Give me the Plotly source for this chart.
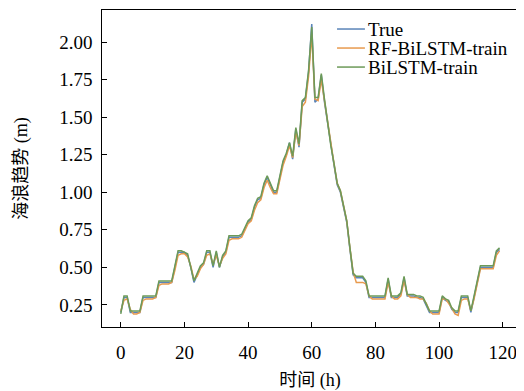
import plotly.graph_objects as go

hours = list(range(120))

true_vals = [0.20,0.30,0.30,0.20,0.20,0.20,0.20,0.30,0.30,0.30,
 0.30,0.30,0.40,0.40,0.40,0.40,0.40,0.50,0.60,0.60,
 0.60,0.58,0.50,0.40,0.45,0.50,0.52,0.60,0.60,0.50,
 0.60,0.50,0.57,0.60,0.70,0.70,0.70,0.70,0.71,0.75,
 0.80,0.82,0.90,0.95,0.96,1.05,1.10,1.05,1.00,1.00,
 1.10,1.20,1.25,1.33,1.22,1.42,1.30,1.60,1.62,1.80,
 2.12,1.60,1.62,1.78,1.60,1.45,1.30,1.18,1.05,1.00,
 0.90,0.80,0.62,0.45,0.43,0.43,0.43,0.40,0.30,0.30,
 0.30,0.30,0.30,0.30,0.42,0.30,0.30,0.30,0.32,0.43,
 0.31,0.31,0.31,0.30,0.30,0.29,0.25,0.20,0.20,0.20,
 0.20,0.30,0.28,0.27,0.22,0.20,0.20,0.30,0.30,0.30,
 0.20,0.30,0.40,0.50,0.50,0.50,0.50,0.50,0.60,0.62]

rf_bilstm = [0.21,0.28,0.29,0.22,0.19,0.19,0.20,0.28,0.29,0.29,
 0.29,0.30,0.38,0.39,0.39,0.39,0.40,0.48,0.58,0.59,
 0.59,0.57,0.51,0.42,0.44,0.49,0.52,0.58,0.59,0.52,
 0.58,0.51,0.56,0.59,0.68,0.69,0.69,0.69,0.70,0.74,
 0.79,0.81,0.88,0.93,0.95,1.03,1.08,1.03,0.99,0.99,
 1.08,1.18,1.24,1.31,1.23,1.40,1.31,1.57,1.60,1.77,
 2.05,1.62,1.61,1.75,1.61,1.46,1.31,1.19,1.06,1.01,
 0.91,0.81,0.63,0.47,0.40,0.40,0.40,0.39,0.31,0.29,
 0.29,0.29,0.29,0.29,0.40,0.31,0.29,0.29,0.31,0.41,
 0.32,0.30,0.30,0.30,0.29,0.29,0.26,0.21,0.19,0.19,
 0.19,0.29,0.29,0.26,0.23,0.19,0.18,0.28,0.29,0.29,
 0.21,0.29,0.39,0.49,0.49,0.49,0.49,0.49,0.58,0.61]

bilstm = [0.19,0.31,0.31,0.21,0.21,0.21,0.21,0.31,0.31,0.31,
 0.31,0.31,0.41,0.41,0.41,0.41,0.41,0.51,0.61,0.61,
 0.60,0.59,0.50,0.41,0.46,0.51,0.53,0.61,0.61,0.51,
 0.61,0.50,0.58,0.61,0.71,0.71,0.71,0.71,0.72,0.76,
 0.81,0.83,0.91,0.96,0.97,1.06,1.11,1.06,1.01,1.01,
 1.11,1.21,1.26,1.33,1.24,1.43,1.32,1.61,1.63,1.81,
 2.10,1.63,1.63,1.79,1.62,1.46,1.31,1.19,1.06,1.01,
 0.91,0.81,0.63,0.46,0.44,0.44,0.44,0.41,0.31,0.31,
 0.31,0.31,0.31,0.31,0.43,0.31,0.31,0.31,0.33,0.44,
 0.32,0.32,0.32,0.31,0.31,0.30,0.26,0.21,0.21,0.21,
 0.21,0.31,0.29,0.28,0.23,0.21,0.21,0.31,0.31,0.31,
 0.21,0.31,0.41,0.51,0.51,0.51,0.51,0.51,0.61,0.63]

series_names = ["True", "RF-BiLSTM-train", "BiLSTM-train"]
series_colors = ["#5a84b8", "#e89a4e", "#6c9a58"]
series_values = [true_vals, rf_bilstm, bilstm]

x_ticks = [0, 20, 40, 60, 80, 100, 120]
y_ticks = [0.25, 0.50, 0.75, 1.00, 1.25, 1.50, 1.75, 2.00]

FONT = "'Liberation Serif', 'Times New Roman', 'Noto Sans CJK SC', serif"

fig = go.Figure()
for name, color, vals in zip(series_names, series_colors, series_values):
    fig.add_trace(go.Scatter(x=hours, y=vals, mode="lines", name=name,
                             line=dict(color=color, width=1.5)))

# manual legend (compact spacing like the reference)
leg_x0, leg_x1, leg_y0, leg_dy = 0.565, 0.632, 0.940, 0.06
for i, (name, color) in enumerate(zip(series_names, series_colors)):
    yy = leg_y0 - i * leg_dy
    fig.add_shape(type="line", xref="paper", yref="paper",
                  x0=leg_x0, x1=leg_x1, y0=yy, y1=yy,
                  line=dict(color=color, width=1.5))
    fig.add_annotation(xref="paper", yref="paper", x=leg_x1 + 0.002, y=yy,
                       xanchor="left", yanchor="middle", text=name, showarrow=False,
                       font=dict(family=FONT, size=19, color="black"))

fig.update_layout(
    width=516, height=383,
    margin=dict(l=94, r=6, t=2, b=64),
    paper_bgcolor="white", plot_bgcolor="white",
    font=dict(family=FONT, size=19, color="black"),
    showlegend=False,
)
fig.update_xaxes(
    range=[-5.9, 124.8], tickvals=x_ticks, ticktext=[str(v) for v in x_ticks],
    tickfont=dict(family=FONT, size=19, color="black"),
    ticks="inside", ticklen=5, tickcolor="black", tickwidth=1,
    showline=True, linecolor="black", linewidth=1, mirror=True,
    showgrid=False, zeroline=False, ticklabelstandoff=8, automargin=False,
    title=dict(text="时间 (h)", font=dict(size=18, family=FONT), standoff=11),
)
fig.update_yaxes(
    range=[0.103, 2.213], tickvals=y_ticks,
    ticktext=[f"{v:.2f}\u00a0" for v in y_ticks],
    tickfont=dict(family=FONT, size=19, color="black"),
    ticks="inside", ticklen=5, tickcolor="black", tickwidth=1,
    showline=True, linecolor="black", linewidth=1, mirror=True,
    showgrid=False, zeroline=False, automargin=False,
    title=dict(text="海浪趋势 (m)", font=dict(size=18, family=FONT), standoff=26),
)

fig.write_html("out.html")
